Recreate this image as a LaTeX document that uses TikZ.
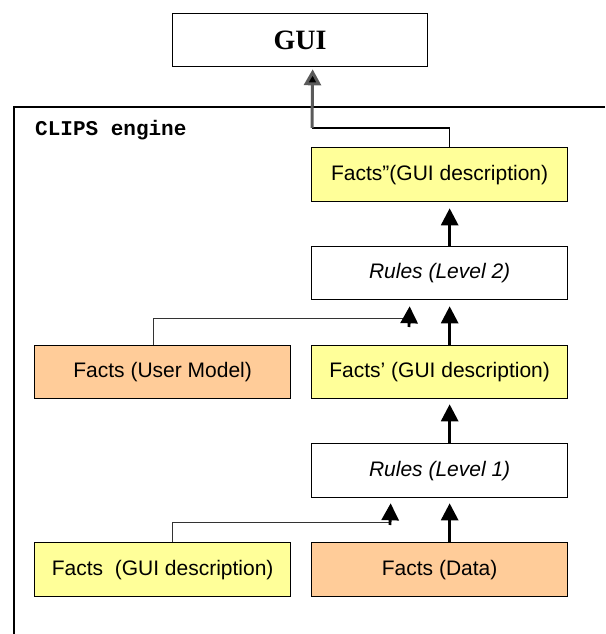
\documentclass[tikz,border=0pt]{standalone}
\usepackage{fontspec}
\setmainfont{Liberation Sans}
\newfontfamily\timesfont{Liberation Serif}
\newfontfamily\courierfont{Liberation Mono}
\usetikzlibrary{arrows.meta,calc}
\definecolor{factyellow}{HTML}{FFFF99}
\definecolor{factorange}{HTML}{FFCC99}
\definecolor{guigray}{HTML}{5A5A5A}
\begin{document}
\begin{tikzpicture}[x=1pt,y=-1pt,
  box/.style={draw=black,line width=1.3pt,anchor=north west,inner sep=0pt,
     minimum width=256pt,minimum height=54pt,
     font=\fontsize{21}{25}\selectfont},
  yel/.style={box,fill=factyellow},
  ora/.style={box,fill=factorange},
  wht/.style={box,fill=white,font=\fontsize{21}{25}\selectfont\itshape},
  arr/.style={line width=2.8pt,-{Triangle[length=17pt,width=17pt]}},
  thin/.style={line width=1pt,draw=black!80},
  frame/.style={line width=1.3pt}]
\useasboundingbox (0,0) rectangle (605,634);
% frame of CLIPS engine
\coordinate (ftl) at (14,107);
\coordinate (ftr) at (605,107);
\coordinate (fbl) at (14,634);
\draw[frame] (ftr) -- (ftl) -- (fbl);
\node[anchor=base west,inner sep=0pt,font=\courierfont\bfseries\fontsize{21}{24}\selectfont] (clips) at (35,135) {CLIPS engine};
% GUI
\node[box,fill=white,minimum width=255pt,minimum height=53pt,font=\timesfont\bfseries\fontsize{28}{32}\selectfont] (gui) at (172,13) {GUI};
% boxes
\node[yel] (f2) at (311,147) {Facts”(GUI description)};
\node[wht,minimum height=53pt] (r2) at (311,246) {Rules (Level 2)};
\node[ora,minimum height=53pt] (um) at (34,345) {Facts (User Model)};
\node[yel,minimum height=53pt] (f1) at (311,345) {Facts’ (GUI description)};
\node[wht] (r1) at (311,443) {Rules (Level 1)};
\node[yel] (fg) at (34,542) {Facts\ \ (GUI description)};
\node[ora] (fd) at (311,542) {Facts (Data)};
% vertical arrows
\draw[arr] ([xshift=10pt]fd.north) -- ([xshift=10pt,yshift=-5pt]r1.south);
\draw[arr] ([xshift=10pt]r1.north) -- ([xshift=10pt,yshift=-5pt]f1.south);
\draw[arr] ([xshift=10pt]f1.north) -- ([xshift=10pt,yshift=-6pt]r2.south);
\draw[arr] ([xshift=10pt]r2.north) -- ([xshift=10pt,yshift=-6pt]f2.south);
% side inputs
\coordinate (j1) at (409,318);
\draw[thin] ([xshift=-9pt]um.north) |- (j1);
\draw[arr] ([yshift=-9pt]j1) -- ([xshift=-30pt,yshift=-6pt]r2.south);
\coordinate (j2) at (390,522);
\draw[thin] ([xshift=10pt]fg.north) |- (j2);
\draw[arr] ([yshift=-3pt]j2) -- ([xshift=-49pt,yshift=-5pt]r1.south);
% to GUI
\coordinate (g1) at (312,128);
\draw[line width=1.3pt] ([xshift=10pt]f2.north) |- (g1);
\draw[line width=3pt,draw=guigray,-{Triangle[length=16pt,width=17pt,fill=black]}] (g1) -- ([xshift=12.5pt,yshift=-2pt]gui.south);
\end{tikzpicture}
\end{document}
